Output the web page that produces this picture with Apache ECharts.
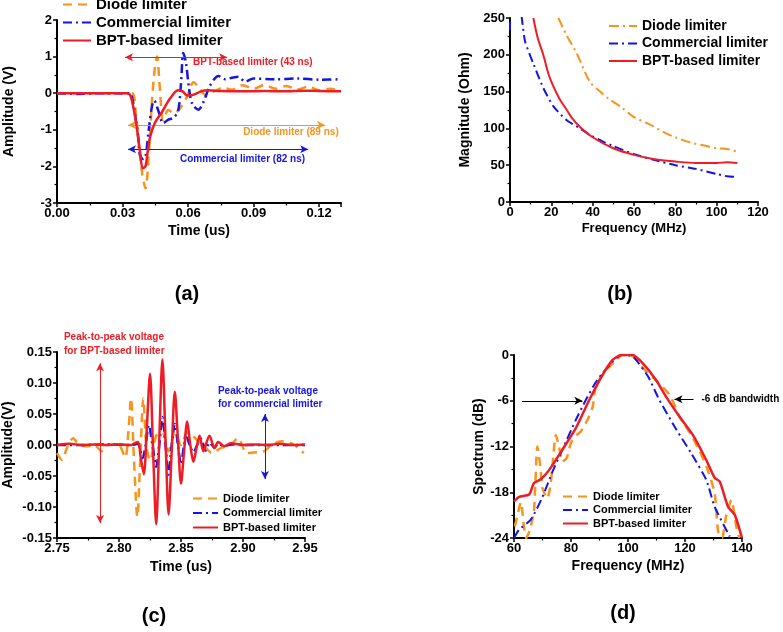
<!DOCTYPE html>
<html><head><meta charset="utf-8">
<script src="https://cdn.jsdelivr.net/npm/echarts@6/dist/echarts.min.js"></script>
<style>html,body{margin:0;padding:0;background:#fff}#c{width:783px;height:632px}</style>
</head><body><div id="c"></div>
<script>
// ---------- Panel (a): time-domain response ----------
const aDiodeT = [0,0.01,0.02,0.03,0.0345,0.036,0.0375,0.039,0.0405,0.042,0.0435,0.0448,0.0458,0.047,0.0486,0.051,0.0536,0.0565,0.0595,0.0625,0.065,0.068,0.072,0.076,0.080,0.085,0.090,0.095,0.100,0.105,0.110,0.115,0.120,0.125,0.13];
const aDiodeV = [0,0,0,0,0,-0.5,-1.4,-2.2,-2.6,-1.7,-0.2,0.7,1.0,0.2,-0.74,-0.46,-0.55,-0.4,-0.1,0.3,0.15,-0.05,0.05,0.15,0.1,0.22,0.12,0.22,0.12,0.2,0.1,0.18,0.08,0.12,0.05];
const aCommT = [0,0.01,0.02,0.03,0.0335,0.0345,0.0355,0.037,0.038,0.0395,0.0405,0.042,0.0435,0.0445,0.0465,0.0486,0.051,0.053,0.0554,0.0568,0.0578,0.059,0.0605,0.062,0.0647,0.067,0.070,0.0739,0.077,0.080,0.083,0.086,0.090,0.10,0.11,0.12,0.13];
const aCommV = [0,-0.02,0,0,0,-0.15,-0.5,-1.1,-1.7,-1.8,-1.75,-1.0,-0.35,-0.2,-0.5,-0.82,-0.72,-0.68,-0.5,0.3,1.1,0.85,0.1,-0.3,-0.45,-0.25,0.2,0.47,0.38,0.42,0.45,0.32,0.4,0.38,0.4,0.37,0.38];
const aBptT = [0,0.01,0.02,0.03,0.032,0.0335,0.035,0.0365,0.038,0.0392,0.0405,0.0415,0.0426,0.0449,0.048,0.0518,0.0554,0.0575,0.0595,0.062,0.066,0.069,0.075,0.085,0.095,0.105,0.113,0.12,0.13];
const aBptV = [0,0,0,0,0,-0.05,-0.4,-0.93,-1.6,-2.05,-2.0,-1.6,-1.2,-0.8,-0.52,-0.14,0.08,0.05,-0.06,-0.05,0.05,0.08,0.06,0.05,0.06,0.05,0.07,0.06,0.05];

// ---------- Panel (b): impedance magnitude ----------
const bDiodeF = [23.4,27.5,32.3,38.7,43.6,48.4,53.3,59.7,67.8,75,80,87,95,100,105,110.6];
const bDiodeV = [250,226,202,163,150,139,130,116,105,94,88,81,76,73,72,68];
const bCommF = [0,0.4,5,5.7,7.3,11.3,16.1,21,27.5,33.9,38.7,45,50,60,70,80,90,100,105,110];
const bCommV = [233,262,262,250,218,188,155,130,111,100,91,82,76,65,57,50,45,38,35,34];
const bBptF = [11.3,13.5,16.1,18.5,21,24,27.5,30,33.9,40,50,60,70,80,90,100,105,110];
const bBptV = [250,222,200,175,157,140,125,114,102,88,73,64,58,55,53,53,54,53];

// ---------- Panel (c): received echo ----------
const cDiodeT = [2.75,2.754,2.758,2.763,2.768,2.775,2.78,2.786,2.79,2.795,2.80,2.805,2.8075,2.8097,2.812,2.8148,2.817,2.8196,2.822,2.825,2.83,2.835,2.84,2.845,2.85,2.855,2.859,2.865,2.87,2.875,2.882,2.889,2.896,2.903,2.909,2.916,2.923,2.931,2.94,2.949];
const cDiodeV = [-0.013,-0.024,-0.005,0.011,0.0,-0.002,0.0,-0.01,0.0,0.001,0.0,-0.02,0.02,0.075,-0.02,-0.116,-0.03,0.075,0.0,-0.025,0.015,0.02,-0.01,0.02,0.0,0.02,0.016,0.003,-0.005,-0.013,-0.005,-0.002,0.011,-0.013,-0.012,-0.011,0.0,0.006,0.002,-0.013];
const cCommT = [2.75,2.77,2.79,2.81,2.815,2.819,2.8215,2.824,2.827,2.830,2.8325,2.835,2.8375,2.840,2.8425,2.845,2.8475,2.850,2.8525,2.8546,2.857,2.860,2.863,2.866,2.870,2.873,2.877,2.88,2.885,2.89,2.90,2.92,2.95];
const cCommV = [0,0,0.001,0,0.002,-0.021,0.0,0.032,0.0,-0.035,0,0.045,0,-0.048,0,0.034,0,-0.031,0,0.012,0,-0.012,0,0.01,-0.009,0.004,-0.004,0.002,-0.002,0.001,0,0,0];
const cBptT = [2.75,2.76,2.77,2.78,2.79,2.80,2.81,2.8135,2.8155,2.8175,2.820,2.8225,2.825,2.8275,2.830,2.8325,2.835,2.8375,2.840,2.8425,2.845,2.8475,2.850,2.8525,2.855,2.8575,2.860,2.8625,2.865,2.868,2.873,2.877,2.88,2.885,2.89,2.90,2.91,2.92,2.93,2.94,2.95];
const cBptV = [0,0.002,0,0.001,0,0.001,0,0.004,0.005,-0.02,-0.047,0.03,0.115,-0.01,-0.128,0.01,0.138,0.01,-0.112,-0.01,0.086,0.01,-0.062,-0.01,0.038,0.0,-0.027,-0.005,0.015,-0.01,0.015,-0.005,0.005,-0.002,0.003,0,0.001,0,0.002,0,0.001];

// ---------- Panel (d): spectrum ----------
const dDiodeF = [60.3,61.2,62.4,63.5,64.3,65.5,67,68.2,69.2,70,71.7,72.9,74.7,75.8,77,78.5,80,82,83.5,85.8,87.6,88.8,92.3,95,98.1,100.5,103,105.2,110,114.6,118.1,122.2,125,127.5,130.4,131.6,133,134.5,136.3,138,139];
const dDiodeV = [-22.5,-21,-19.3,-22.5,-24,-23,-20.5,-12,-14.5,-17.5,-18.8,-16.8,-10.5,-12,-14,-13.5,-11.5,-10.5,-10,-8.5,-6.8,-3.9,-2,-1,0,0,-0.5,-1.7,-3.4,-5.2,-8.1,-10.5,-12.5,-14.6,-18.1,-23.1,-24,-21,-19,-22.5,-24];
const dCommF = [60,61.8,65.9,70,73.5,77,81.7,85.2,88,91,94.6,97.6,101.7,107,111,117,122.2,127.5,130.4,135.7];
const dCommV = [-24,-22.9,-21.6,-18.6,-15.3,-12.4,-8.5,-5.9,-4,-2.4,-0.9,0,-0.2,-2.8,-5.9,-9.8,-12.9,-16.4,-19.9,-23.8];
const dBptF = [60,61.8,65.3,67,69.4,72.3,77,81.7,86.4,91.1,94.6,97.6,101.7,105.2,109.9,113.4,118.1,122.8,127.5,130.4,132.2,135.1,137.5,140];
const dBptV = [-19.2,-18.6,-18.3,-16.8,-16.3,-15.1,-12.4,-9.6,-5.9,-2.6,-0.65,0,0,-1.1,-3.3,-5.5,-8.1,-10.5,-13.8,-16.1,-16.6,-19.9,-21,-24];

const seriesNames = ['Diode limiter','Commercial limiter','BPT-based limiter'];
const panelLabels = ['(a)','(b)','(c)','(d)'];

const FONT = '"Liberation Sans", Arial, sans-serif';
const ORANGE = '#F7941D', BLUE = '#1414E6', RED = '#EE1C24';
const DASH = [9,6], DASHDOT = [9,4,2,4], DASHDOTDOT = [10,4,2,4];
function zip(xs, ys){ return xs.map((x,i)=>[x, ys[i]]); }

const grids = [
  {left:57, top:20, width:284, height:183},
  {left:510, top:18, width:248, height:184},
  {left:57, top:352, width:248, height:186},
  {left:514, top:355, width:228, height:183}
];

function axisCommon(fmt, margin){
  return {
    axisLine:{show:true, onZero:false, lineStyle:{color:'#000', width:2}},
    axisTick:{show:true, length:4, lineStyle:{color:'#000', width:1.5}},
    minorTick:{show:true, splitNumber:2, length:2.5, lineStyle:{color:'#000', width:1.2}},
    splitLine:{show:false},
    axisLabel:{color:'#000', fontFamily:FONT, fontWeight:'bold', fontSize:13, margin:margin, formatter:fmt, showMaxLabel:true},
    nameTextStyle:{color:'#000', fontFamily:FONT, fontWeight:'bold', fontSize:14},
    nameLocation:'middle'
  };
}
function xAx(gi, min, max, interval, fmt, name, gap){
  return Object.assign(axisCommon(fmt, 4), {type:'value', gridIndex:gi, min, max, interval, name, nameGap:gap});
}
function yAx(gi, min, max, interval, fmt, name, gap){
  return Object.assign(axisCommon(fmt, 5), {type:'value', gridIndex:gi, min, max, interval, name, nameGap:gap});
}

const xAxes = [
  xAx(0, 0, 0.13, 0.03, v=>v.toFixed(2), 'Time (us)', 21),
  xAx(1, 0, 120, 20, v=>String(v), 'Frequency (MHz)', 20),
  xAx(2, 2.75, 2.95, 0.05, v=>v.toFixed(2), 'Time (us)', 22),
  xAx(3, 60, 140, 20, v=>String(v), 'Frequency (MHz)', 21)
];
xAxes[0].axisLabel.showMaxLabel = false;
xAxes[1].nameTextStyle.fontSize = 13;
const yAxes = [
  yAx(0, -3, 2, 1, v=>String(Math.round(v)), 'Amplitude (V)', 41),
  yAx(1, 0, 250, 50, v=>String(v), 'Magnitude (Ohm)', 38),
  yAx(2, -0.15, 0.15, 0.05, v=>(Math.abs(v)<1e-9?0:v).toFixed(2), 'Amplitude(V)', 42),
  yAx(3, -24, 0, 6, v=>String(Math.round(v)), 'Spectrum (dB)', 27)
];

function line(prefix, idx, gi, data, color, type, width, smooth){
  return {type:'line', name:prefix+':'+seriesNames[idx], xAxisIndex:gi, yAxisIndex:gi, data,
    symbol:'none', showSymbol:false, smooth:smooth, clip:true, animation:false,
    lineStyle:{color, type, width}, itemStyle:{color}, emphasis:{disabled:true}, z: 3+idx};
}
function arrowML(pairs, color, sym){
  return {silent:true, symbol:sym||['arrow','arrow'], symbolSize:[6,8], label:{show:false}, animation:false,
    lineStyle:{color, width:1, type:'solid'},
    emphasis:{disabled:true},
    data: pairs.map(p=>[{coord:p[0], lineStyle:{color, width:1, type:'solid'}}, {coord:p[1]}])};
}

// annotation anchor points (data coords)
const aArrowBpt = [[0.0311,0.98],[0.0779,0.98]];
const aArrowDiode = [[0.0325,-0.87],[0.1227,-0.87]];
const aArrowComm = [[0.0325,-1.53],[0.115,-1.53]];
const cArrowBpt = [[2.7847,0.132],[2.7847,-0.126]];
const cArrowComm = [[2.9177,0.05],[2.9177,-0.055]];
const dArrowL = [[62.8,-6],[84,-6]];
const dArrowR = [[123,-5.8],[116.3,-5.8]];

const sA = [
  line('a',0,0,zip(aDiodeT,aDiodeV),ORANGE,DASH,2.5,0.3),
  line('a',1,0,zip(aCommT,aCommV),BLUE,DASHDOT,2.5,0.3),
  line('a',2,0,zip(aBptT,aBptV),RED,'solid',2.5,0.3)
];
sA[0].markLine = arrowML([aArrowDiode], ORANGE);
sA[1].markLine = arrowML([aArrowComm], BLUE);
sA[2].markLine = arrowML([aArrowBpt], RED);
const sB = [
  line('b',0,1,zip(bDiodeF,bDiodeV),ORANGE,DASHDOTDOT,2,0.3),
  line('b',1,1,zip(bCommF,bCommV),BLUE,DASHDOT,2,0.2),
  line('b',2,1,zip(bBptF,bBptV),RED,'solid',2,0.3)
];
const sC = [
  line('c',0,2,zip(cDiodeT,cDiodeV),ORANGE,DASH,2.5,0.3),
  line('c',1,2,zip(cCommT,cCommV),BLUE,DASHDOT,2.5,0.3),
  line('c',2,2,zip(cBptT,cBptV),RED,'solid',2.5,0.3)
];
sC[1].markLine = arrowML([cArrowComm], BLUE);
sC[2].markLine = arrowML([cArrowBpt], RED);
const sD = [
  line('d',0,3,zip(dDiodeF,dDiodeV),ORANGE,DASH,2.5,0.2),
  line('d',1,3,zip(dCommF,dCommV),BLUE,DASHDOT,2,0.2),
  line('d',2,3,zip(dBptF,dBptV),RED,'solid',2.5,0.2)
];
sD[1].markLine = arrowML([dArrowL, dArrowR], '#000', ['none','arrow']);

function legend(prefix, left, top, fs, ih, gap, iw){
  return {left, top, orient:'vertical', padding:0, itemWidth:iw, itemHeight:ih, itemGap:gap, selectedMode:false,
    itemStyle:{opacity:0, borderWidth:0},
    data: seriesNames.map(n=>prefix+':'+n), formatter: n=>n.slice(2),
    textStyle:{color:'#000', fontFamily:FONT, fontWeight:'bold', fontSize:fs}};
}

const chart = echarts.init(document.getElementById('c'), null, {renderer:'canvas'});
chart.setOption({
  animation:false,
  backgroundColor:'#fff',
  grid: grids,
  xAxis: xAxes,
  yAxis: yAxes,
  legend: [
    legend('a', 62, -3, 15, 14, 3, 28),
    legend('b', 608, 19, 14, 14, 3.5, 28),
    legend('c', 192, 493, 11, 10, 3.5, 25),
    legend('d', 562, 491, 11, 10, 2.5, 25)
  ],
  series: [].concat(sA, sB, sC, sD)
});

// text annotations positioned from data coordinates
const notes = [
  {g:0, at:[0.0623,0.85], text:'BPT-based limiter (43 ns)', color:RED},
  {g:0, at:[0.0852,-1.07], text:'Diode limiter (89 ns)', color:ORANGE},
  {g:0, at:[0.0563,-1.80], text:'Commercial limiter (82 ns)', color:BLUE},
  {g:2, at:[2.7556,0.174], text:'Peak-to-peak voltage', color:RED},
  {g:2, at:[2.7556,0.152], text:'for BPT-based limiter', color:RED},
  {g:2, at:[2.8798,0.086], text:'Peak-to-peak voltage', color:BLUE},
  {g:2, at:[2.8798,0.066], text:'for commercial limiter', color:BLUE},
  {g:3, at:[125.8,-5.8], text:'-6 dB bandwidth', color:'#000'}
];
const graphics = notes.map(n=>{
  const p = chart.convertToPixel({gridIndex:n.g}, n.at);
  return {type:'text', x:p[0], y:p[1], silent:true,
    style:{text:n.text, fill:n.color, font:'bold 10px '+FONT, align:'left', verticalAlign:'middle'}};
});
const labelPos = [[187,294],[620,294],[154,616],[623,613]];
panelLabels.forEach((t,i)=>{
  graphics.push({type:'text', x:labelPos[i][0], y:labelPos[i][1], silent:true,
    style:{text:t, fill:'#000', font:'bold 20px '+FONT, align:'center', verticalAlign:'middle'}});
});
chart.setOption({graphic: graphics});
</script>
</body></html>
